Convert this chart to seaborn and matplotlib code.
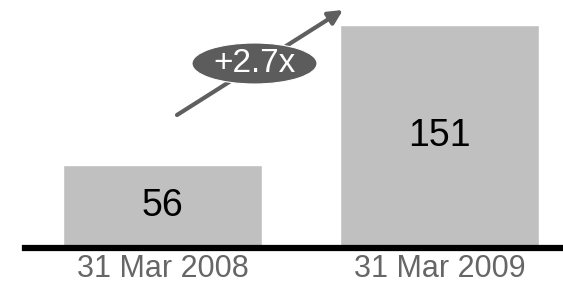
import matplotlib
matplotlib.use("Agg")
import matplotlib.pyplot as plt
import seaborn as sns
from matplotlib.patches import Ellipse

categories = ["31 Mar 2008", "31 Mar 2009"]
values = [56, 151]
value_labels = ["56", "151"]
growth_label = "+2.7x"

sns.set_theme(style="white")
plt.rcParams['font.family'] = ['Liberation Sans', 'DejaVu Sans']

W, H = 563, 292
fig = plt.figure(figsize=(W / 100, H / 100), dpi=100)
ax = fig.add_axes([25 / W, 44.5 / H, 1 - 25 / W, 1 - 44.5 / H])

sns.barplot(x=categories, y=values, color="#c0c0c0", saturation=1, width=0.718, ax=ax)

ax.set_xlim(-0.496, 1.446)
ax.set_ylim(0, 151 * 247.5 / 222.5)

for i, (v, lab) in enumerate(zip(values, value_labels)):
    ax.text(i, v * 0.5, lab, ha="center", va="center", fontsize=27, color="black")

for s in ["top", "right", "left"]:
    ax.spines[s].set_visible(False)
ax.spines["bottom"].set_linewidth(4.5)
ax.spines["bottom"].set_color("black")
ax.set_yticks([])
ax.tick_params(axis="x", length=0, pad=5, labelsize=22, labelcolor="#666666")
ax.set_xlabel("")
ax.set_ylabel("")

# growth arrow
ax.annotate("", xy=(343 / W, 1 - 10 / H), xytext=(177 / W, 1 - 115 / H),
            xycoords="figure fraction", textcoords="figure fraction",
            arrowprops=dict(arrowstyle="-|>,head_length=0.7,head_width=0.35",
                            color="#5f5f5f", lw=3, shrinkA=0, shrinkB=0),
            annotation_clip=False)
ell = Ellipse((254.5 / W, 1 - 63.5 / H), 125 / W, 41 / H, transform=fig.transFigure,
              facecolor="#5c5c5c", edgecolor="white", lw=0.8, zorder=5)
fig.patches.append(ell)
fig.text(254.5 / W, 1 - 64 / H, growth_label, ha="center", va="center",
         fontsize=24, color="white", zorder=6)

fig.savefig("out.png", dpi=100)
